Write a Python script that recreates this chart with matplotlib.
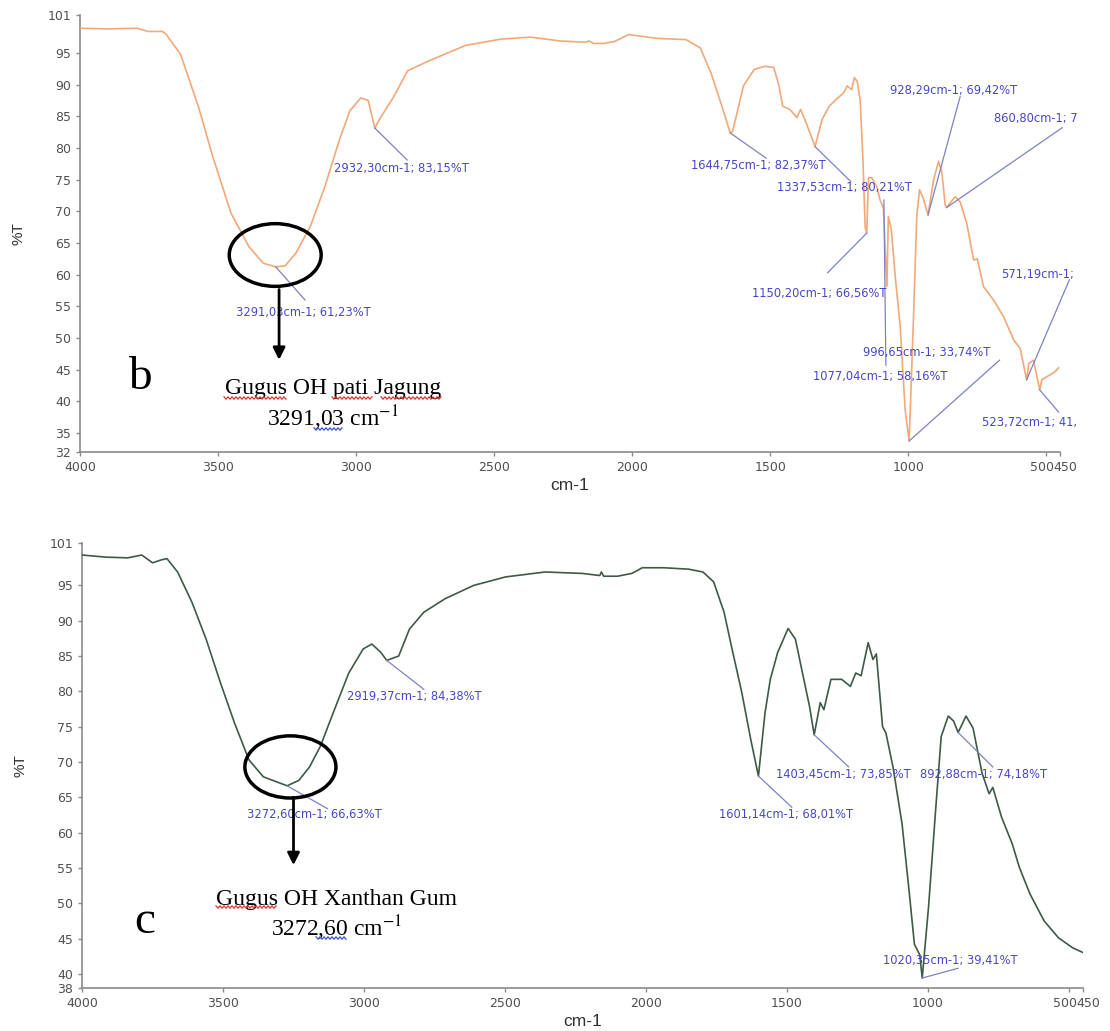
import numpy as np
import matplotlib
matplotlib.use('Agg')
import matplotlib.pyplot as plt
from matplotlib.patches import Ellipse
import matplotlib.transforms as mtrans


# spectrum b - pati jagung (orange)
wn_b = [4000, 3900, 3793, 3754, 3702, 3689, 3636, 3571, 3519, 3453, 3388, 3336, 3291.03, 3257,
        3218, 3166, 3113, 3061, 3022, 2983, 2956, 2932.30, 2917, 2865, 2813, 2734, 2603, 2473,
        2368, 2263, 2169, 2156, 2140, 2104, 2065, 2013, 1961, 1909, 1805, 1753, 1714, 1675,
        1644.75, 1636, 1597, 1558, 1519, 1487, 1468, 1455, 1429, 1403, 1390, 1370, 1337.53, 1312,
        1286, 1260, 1234, 1221, 1205, 1195, 1185, 1174, 1164, 1156, 1150.20, 1144, 1132, 1114,
        1102, 1090, 1077.04, 1072, 1061, 1047, 1029, 1011, 996.65, 982, 969, 959, 945, 928.29,
        908, 890, 878, 866, 860.80, 845, 830, 812, 788, 763, 750, 727, 691, 655, 618, 594,
        571.19, 563, 546, 523.72, 516, 486, 470, 455]
t_b = [98.9, 98.8, 98.9, 98.4, 98.4, 98.0, 94.8, 86.5, 78.6, 69.7, 64.4, 61.8, 61.23, 61.4,
       63.4, 67.6, 73.9, 81.2, 85.9, 87.9, 87.5, 83.15, 84.4, 88.0, 92.2, 93.8, 96.2, 97.2,
       97.5, 96.9, 96.7, 96.9, 96.5, 96.5, 96.8, 97.9, 97.6, 97.3, 97.1, 95.8, 91.8, 86.6,
       82.37, 82.6, 89.8, 92.4, 92.9, 92.7, 89.8, 86.6, 86.1, 84.8, 86.1, 84.0, 80.21, 84.5,
       86.6, 87.7, 88.7, 89.8, 89.2, 91.1, 90.5, 87.6, 78.1, 67.5, 66.56, 75.3, 75.3, 73.9,
       71.8, 70.5, 58.16, 69.2, 67.0, 59.7, 51.8, 38.6, 33.74, 51.8, 69.2, 73.4, 72.0, 69.42,
       75.0, 77.9, 76.1, 71.0, 70.6, 71.5, 72.3, 71.5, 68.1, 62.3, 62.5, 58.1, 56.0, 53.4, 49.7, 48.3,
       43.4, 46.0, 46.5, 41.8, 43.4, 44.2, 44.6, 45.3]

# spectrum c - xanthan gum (green)
wn_c = [4000, 3914, 3838, 3788, 3750, 3720, 3699, 3661, 3610, 3560, 3509, 3459, 3408, 3357,
        3272.60, 3231, 3193, 3155, 3105, 3054, 3003, 2972, 2940, 2919.37, 2877, 2839, 2788, 2713,
        2611, 2498, 2358, 2227, 2164, 2158, 2150, 2101, 2050, 2013, 1937, 1849, 1798, 1760, 1723,
        1697, 1660, 1628, 1601.14, 1578, 1559, 1533, 1496, 1470, 1445, 1420, 1403.45, 1382, 1369,
        1344, 1306, 1275, 1256, 1237, 1212, 1195, 1183, 1161, 1149, 1124, 1092, 1067, 1048, 1029,
        1020.35, 998, 972, 953, 928, 909, 892.88, 865, 840, 808, 783, 770, 739, 701, 676, 638,
        588, 537, 487, 449]
t_c = [99.3, 99.0, 98.9, 99.3, 98.2, 98.6, 98.8, 96.9, 92.6, 87.4, 81.2, 75.5, 70.3, 67.9,
       66.63, 67.4, 69.3, 72.2, 77.4, 82.6, 86.0, 86.7, 85.5, 84.38, 85.0, 88.8, 91.2, 93.1,
       95.0, 96.2, 96.9, 96.7, 96.4, 96.9, 96.3, 96.3, 96.7, 97.5, 97.5, 97.3, 96.9, 95.5, 91.2,
       86.4, 79.8, 73.1, 68.01, 76.9, 81.7, 85.5, 88.9, 87.4, 82.6, 77.9, 73.85, 78.4, 77.4,
       81.7, 81.7, 80.7, 82.6, 82.2, 86.9, 84.5, 85.3, 75.0, 74.1, 69.3, 61.3, 51.8, 44.2, 42.7,
       39.41, 49.4, 63.6, 73.6, 76.5, 75.8, 74.18, 76.5, 74.8, 68.4, 65.5, 66.4, 62.2, 58.4, 55.1, 51.3,
       47.5, 45.1, 43.7, 43.0]

# peak labels (text as printed by the instrument software)
peak_wn_b = [3291.03, 2932.30, 1644.75, 1337.53, 1150.20, 1088, 996.65, 928.29, 860.80, 571.19, 523.72]
peak_t_b = [61.23, 83.15, 82.37, 80.21, 66.56, 71.8, 33.74, 69.42, 70.6, 43.4, 41.8]
peak_txt_b = ['3291,03cm-1; 61,23%T', '2932,30cm-1; 83,15%T', '1644,75cm-1; 82,37%T',
              '1337,53cm-1; 80,21%T', '1150,20cm-1; 66,56%T', '1077,04cm-1; 58,16%T',
              '996,65cm-1; 33,74%T', '928,29cm-1; 69,42%T', '860,80cm-1; 7',
              '571,19cm-1;', '523,72cm-1; 41,']
txt_pos_b = [(3435, 54.1), (3080, 76.8), (1786, 77.2), (1474, 73.7), (1565, 57.1), (1344, 43.9),
             (1162, 47.7), (1065, 89.0), (688, 84.7), (662, 60.0), (734, 36.6)]
line_end_b = [(3185, 56.0), (2815, 78.1), (1515, 78.4), (1208, 74.7), (1292, 60.3), (1081, 45.7),
              (669, 46.5), (812, 88.1), (442, 83.2), (416, 59.2), (455, 38.3)]

peak_wn_c = [3272.60, 2919.37, 1601.14, 1403.45, 1020.35, 892.88]
peak_t_c = [66.63, 84.38, 68.01, 73.85, 39.41, 74.18]
peak_txt_c = ['3272,60cm-1; 66,63%T', '2919,37cm-1; 84,38%T', '1601,14cm-1; 68,01%T',
              '1403,45cm-1; 73,85%T', '1020,35cm-1; 39,41%T', '892,88cm-1; 74,18%T']
txt_pos_c = [(3414, 62.6), (3060, 79.3), (1741, 62.6), (1540, 68.2), (1158, 41.9), (1029, 68.2)]
line_end_c = [(3130, 63.4), (2788, 80.3), (1483, 63.6), (1281, 69.3), (893, 40.8), (770, 69.3)]

xticks = [4000, 3500, 3000, 2500, 2000, 1500, 1000, 500, 450]
yticks_b = [32, 35, 40, 45, 50, 55, 60, 65, 70, 75, 80, 85, 90, 95, 101]
yticks_c = [38, 40, 45, 50, 55, 60, 65, 70, 75, 80, 85, 90, 95, 101]

TXT_BLUE = '#4646c8'
LINE_BLUE = '#7d82c4'
AX_GREY = '#8a8a8a'
W, H = 1110, 1031


def draw_panel(ax, wn, t, color, yticks, pk_wn, pk_t, pk_txt, txt_pos, line_end):
	ax.plot(wn, t, color=color, lw=1.2, zorder=3)
	ax.set_xlim(4000, 450)
	ax.set_ylim(yticks[0], yticks[-1])
	ax.set_xticks(xticks)
	ax.set_xticklabels([str(v) for v in xticks])
	ax.set_yticks(yticks)
	ax.set_yticklabels([str(v) for v in yticks])
	for s in ['top', 'right']:
		ax.spines[s].set_visible(False)
	for s in ['left', 'bottom']:
		ax.spines[s].set_color(AX_GREY)
		ax.spines[s].set_linewidth(1.2)
	ax.tick_params(colors=AX_GREY, labelcolor='#505050', labelsize=9, length=3, width=1)
	for lab in ax.get_xticklabels() + ax.get_yticklabels():
		lab.set_family('DejaVu Sans')
	ax.set_xlabel('cm-1', fontsize=12.5, color='#303030', labelpad=3)
	ax.set_ylabel('%T', fontsize=11, color='#303030', labelpad=16)

	# 500 and 450 labels sit side by side ("500450")
	labs = ax.get_xticklabels()
	fig = ax.figure
	labs[-2].set_ha('right')
	labs[-2].set_transform(labs[-2].get_transform() + mtrans.ScaledTranslation(8 / 100, 0, fig.dpi_scale_trans))
	labs[-1].set_ha('left')
	labs[-1].set_transform(labs[-1].get_transform() + mtrans.ScaledTranslation(-7 / 100, 0, fig.dpi_scale_trans))

	for i in range(len(pk_wn)):
		ax.plot([pk_wn[i], line_end[i][0]], [pk_t[i], line_end[i][1]], color=LINE_BLUE, lw=0.9, zorder=4,
				clip_on=False)
		ax.text(txt_pos[i][0], txt_pos[i][1], pk_txt[i], color=TXT_BLUE, fontsize=8.3, family='DejaVu Sans',
				ha='left', va='center', zorder=5, clip_on=False)


def squiggle(fig, x0, x1, y, color):
	# spell-check style wavy underline, in pixel units of the figure
	xs = np.arange(x0, x1 + 1, 2.0)
	ys = y + np.where(np.arange(len(xs)) % 2 == 0, -1.2, 1.2)
	fig.add_artist(plt.Line2D(xs / W, 1 - ys / H, color=color, lw=0.9, transform=fig.transFigure))


def main():
	plt.rcParams['font.family'] = ['Liberation Sans', 'DejaVu Sans']
	plt.rcParams['mathtext.fontset'] = 'stix'

	fig = plt.figure(figsize=(11.1, 10.31), dpi=100)
	ax1 = fig.add_axes([0.0721, 0.5616, 0.8829, 0.4239])
	ax2 = fig.add_axes([0.0739, 0.0417, 0.9018, 0.4316])

	draw_panel(ax1, wn_b, t_b, '#f2a878', yticks_b, peak_wn_b, peak_t_b, peak_txt_b, txt_pos_b, line_end_b)
	draw_panel(ax2, wn_c, t_c, '#3e5a46', yticks_c, peak_wn_c, peak_t_c, peak_txt_c, txt_pos_c, line_end_c)

	serif = ['Liberation Serif', 'DejaVu Serif']

	# panel b markings
	ax1.add_patch(Ellipse((3293, 63.1), 333, 9.9, fill=False, ec='black', lw=2.5, zorder=6))
	ax1.annotate('', xy=(3279, 46.1), xytext=(3279, 58.1),
				 arrowprops=dict(arrowstyle='-|>', color='black', lw=2, mutation_scale=18), zorder=6)
	ax1.text(3783, 43.8, 'b', family=serif, fontsize=34, ha='center', va='center')
	ax1.text(3083, 42.1, 'Gugus OH pati Jagung', family=serif, fontsize=17, ha='center', va='center')
	ax1.text(3083, 37.4, '3291,03 cm$^{-1}$', family=serif, fontsize=17, ha='center', va='center')

	# panel c markings
	ax2.add_patch(Ellipse((3261, 69.3), 323, 8.8, fill=False, ec='black', lw=2.5, zorder=6))
	ax2.annotate('', xy=(3250, 55.0), xytext=(3250, 65.4),
				 arrowprops=dict(arrowstyle='-|>', color='black', lw=2, mutation_scale=18), zorder=6)
	ax2.text(3776, 47.4, 'c', family=serif, fontsize=34, ha='center', va='center')
	ax2.text(3097, 50.5, 'Gugus OH Xanthan Gum', family=serif, fontsize=17, ha='center', va='center')
	ax2.text(3097, 46.5, '3272,60 cm$^{-1}$', family=serif, fontsize=17, ha='center', va='center')

	# spell-check underlines copied from the document screenshot
	squiggle(fig, 224, 287, 398, '#e03030')
	squiggle(fig, 332, 372, 398, '#e03030')
	squiggle(fig, 381, 442, 398, '#e03030')
	squiggle(fig, 314, 342, 429, '#3a50d0')
	squiggle(fig, 216, 277, 907, '#e03030')
	squiggle(fig, 316, 346, 938, '#3a50d0')

	fig.savefig('out.png', dpi=100)


if __name__ == '__main__':
	main()
